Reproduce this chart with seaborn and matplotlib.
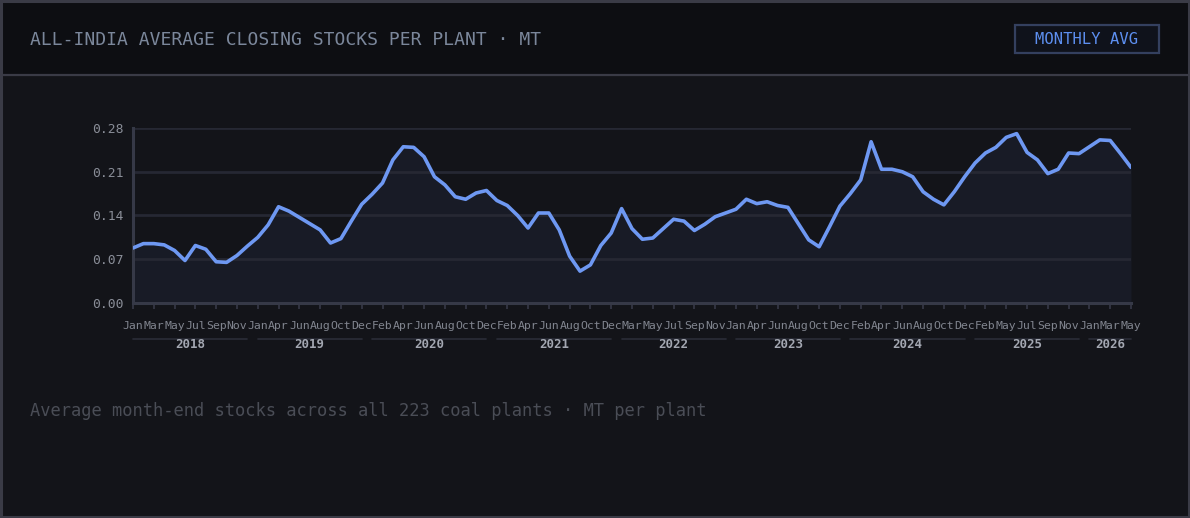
import matplotlib
matplotlib.use("Agg")
import matplotlib.pyplot as plt
import matplotlib.transforms as mtransforms
from matplotlib.patches import Rectangle
from matplotlib.lines import Line2D
import seaborn as sns
import pandas as pd

# ---------------- data ----------------
months_2018 = ["Jan", "Feb", "Mar", "Apr", "May", "Jun", "Jul", "Aug", "Sep", "Oct", "Nov", "Dec"]
months_2019 = ["Jan", "Mar", "Apr", "May", "Jun", "Jul", "Aug", "Sep", "Oct", "Nov", "Dec"]
months_2020 = ["Jan", "Feb", "Mar", "Apr", "May", "Jun", "Jul", "Aug", "Sep", "Oct", "Nov", "Dec"]
months_2021 = ["Jan", "Feb", "Mar", "Apr", "May", "Jun", "Jul", "Aug", "Sep", "Oct", "Nov", "Dec"]
months_2022 = ["Jan", "Mar", "Apr", "May", "Jun", "Jul", "Aug", "Sep", "Oct", "Nov", "Dec"]
months_2023 = ["Jan", "Mar", "Apr", "May", "Jun", "Jul", "Aug", "Sep", "Oct", "Nov", "Dec"]
months_2024 = ["Jan", "Feb", "Mar", "Apr", "May", "Jun", "Jul", "Aug", "Sep", "Oct", "Nov", "Dec"]
months_2025 = ["Jan", "Feb", "Apr", "May", "Jun", "Jul", "Aug", "Sep", "Oct", "Nov", "Dec"]
months_2026 = ["Jan", "Feb", "Mar", "Apr", "May"]
years = ["2018", "2019", "2020", "2021", "2022", "2023", "2024", "2025", "2026"]
months_by_year = [months_2018, months_2019, months_2020, months_2021, months_2022,
                  months_2023, months_2024, months_2025, months_2026]

stock_per_plant = [
    0.088, 0.095, 0.095, 0.093, 0.084, 0.068, 0.092, 0.086, 0.066, 0.065, 0.076, 0.091,
    0.105, 0.125, 0.154, 0.147, 0.137, 0.127, 0.117, 0.096, 0.103, 0.131, 0.158,
    0.174, 0.192, 0.229, 0.250, 0.249, 0.234, 0.202, 0.189, 0.170, 0.166, 0.176, 0.180,
    0.164, 0.156, 0.140, 0.120, 0.144, 0.144, 0.117, 0.075, 0.051, 0.061, 0.092, 0.112,
    0.151, 0.119, 0.102, 0.104, 0.119, 0.134, 0.131, 0.116, 0.126, 0.138, 0.144,
    0.150, 0.166, 0.159, 0.162, 0.156, 0.153, 0.127, 0.101, 0.090, 0.122, 0.155,
    0.175, 0.197, 0.258, 0.214, 0.214, 0.210, 0.202, 0.178, 0.166, 0.157, 0.178, 0.202,
    0.224, 0.240, 0.249, 0.265, 0.271, 0.241, 0.229, 0.207, 0.214, 0.240, 0.239,
    0.250, 0.261, 0.260, 0.239, 0.217,
]
y_ticks = [0.00, 0.07, 0.14, 0.21, 0.28]

title_text = "ALL-INDIA AVERAGE CLOSING STOCKS PER PLANT · MT"
badge_text = "MONTHLY AVG"
subtitle_text = "Average month-end stocks across all 223 coal plants · MT per plant"

# ---------------- build table ----------------
rows = []
for yr, mlist in zip(years, months_by_year):
    for m in mlist:
        rows.append((yr, m))
df = pd.DataFrame(rows, columns=["year", "month"])
df["idx"] = range(len(df))
df["value"] = stock_per_plant

# ---------------- style ----------------
W, H = 1190, 518
BG_BODY = "#131419"
BG_HEAD = "#0d0e12"
BORDER = "#3a3b46"
LINE = "#6e98f2"
FILL = "#181b26"
GRID = "#262833"
SPINE = "#363947"

sns.set_theme(style="dark")
plt.rcParams["font.family"] = ["DejaVu Sans Mono", "DejaVu Sans"]

fig = plt.figure(figsize=(W / 100, H / 100), dpi=100)
fig.patch.set_facecolor(BG_BODY)

def px(x, y):
    return x / W, 1 - y / H

def pt(pxsize):
    return pxsize * 72 / 100

# header background
fig.patches.append(Rectangle((0, 1 - 74 / H), 1, 74 / H, transform=fig.transFigure,
                             facecolor=BG_HEAD, edgecolor="none", zorder=0))
# header separator
fig.lines.append(Line2D([0, 1], [1 - 74.5 / H] * 2, transform=fig.transFigure,
                        color=BORDER, lw=1.6, zorder=1))
# outer border
fig.patches.append(Rectangle((0.0008, 0.0015), 0.9984, 0.997, transform=fig.transFigure,
                             facecolor="none", edgecolor=BORDER, lw=2.2, zorder=5))

# title
tx, ty = px(30, 40)
fig.text(tx, ty, title_text, color="#7b879b", fontsize=pt(18), va="center", ha="left")

# badge
bx0, by0 = px(1015, 53)
bx1, by1 = px(1159, 25)
fig.patches.append(Rectangle((bx0, by0), bx1 - bx0, by1 - by0, transform=fig.transFigure,
                             facecolor="#0f121b", edgecolor="#34405f", lw=1.6, zorder=2))
cx, cy = px(1087, 39.5)
fig.text(cx, cy, badge_text, color="#5d8ff0", fontsize=pt(15.5), va="center", ha="center",
         zorder=3)

# subtitle
sx, sy = px(30, 411)
fig.text(sx, sy, subtitle_text, color="#4a4d56", fontsize=pt(17), va="center", ha="left")

# ---------------- axes ----------------
left, right = 133 / W, 1131 / W
top, bottom = 1 - 128 / H, 1 - 303 / H
ax = fig.add_axes([left, bottom, right - left, top - bottom])
ax.set_facecolor(BG_BODY)

ax.fill_between(df["idx"], df["value"], 0, color=FILL, zorder=0.3, lw=0)
sns.lineplot(data=df, x="idx", y="value", ax=ax, color=LINE, lw=2.6, zorder=3)

ax.set_xlim(0, len(df) - 1)
ax.set_ylim(0, 0.28)
ax.set_yticks(y_ticks)
ax.set_yticklabels([f"{v:.2f}" for v in y_ticks])
ax.yaxis.grid(True, color=GRID, lw=2.0)
ax.xaxis.grid(False)
ax.set_axisbelow(True)

tick_pos = list(range(0, len(df), 2))
ax.set_xticks(tick_pos)
ax.set_xticklabels([df["month"][i] for i in tick_pos])
ax.set_xlabel("")
ax.set_ylabel("")

for s in ["top", "right"]:
    ax.spines[s].set_visible(False)
for s in ["left", "bottom"]:
    ax.spines[s].set_visible(True)
    ax.spines[s].set_color(SPINE)
    ax.spines[s].set_linewidth(2.2)

ax.tick_params(axis="x", colors="#81858f", labelsize=pt(11.5), length=4, width=1.2,
               pad=9, bottom=True)
ax.tick_params(axis="x", which="major", color=SPINE)
ax.tick_params(axis="y", colors="#8a8e98", labelsize=pt(13), length=0, pad=7)

# year groups
trans = mtransforms.blended_transform_factory(ax.transData, ax.transAxes)
line_y = (303 - 339) / 175
label_y = (303 - 345) / 175
for yr in years:
    sub = df[df["year"] == yr]
    i0, i1 = sub["idx"].min(), sub["idx"].max()
    ax.plot([i0, i1], [line_y, line_y], transform=trans, color="#2a2d38", lw=1.2,
            clip_on=False)
    ax.text((i0 + i1) / 2, label_y, yr, transform=trans, ha="center", va="center",
            color="#a3a7b1", fontsize=pt(12.5), fontweight="bold", clip_on=False)

fig.savefig("out.png", dpi=100, facecolor=fig.get_facecolor())
